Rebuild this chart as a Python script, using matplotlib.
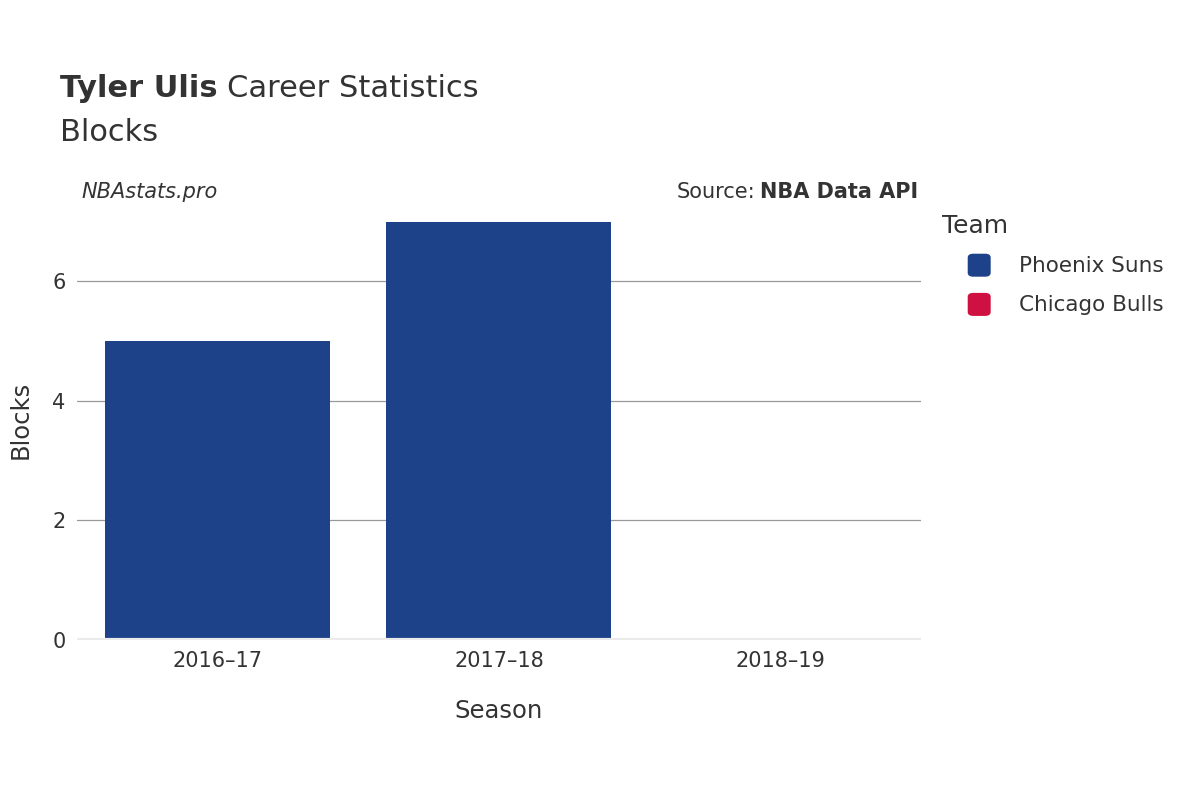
import matplotlib
matplotlib.use("Agg")
import matplotlib.pyplot as plt
from matplotlib.patches import FancyBboxPatch

seasons = ["2016\u201317", "2017\u201318", "2018\u201319"]
suns_blocks = [5, 7, 0]
bulls_blocks = [0, 0, 0]
teams = ["Phoenix Suns", "Chicago Bulls"]
colors = ["#1d4289", "#ce1141"]
yticks = [0, 2, 4, 6]

fig = plt.figure(figsize=(12, 8), dpi=100)
ax = fig.add_axes([0.064, 0.2, 0.7035, 0.55])
x = list(range(len(seasons)))
ax.bar(x, suns_blocks, width=0.8, color=colors[0], zorder=3)
ax.bar(x, bulls_blocks, width=0.8, bottom=suns_blocks, color=colors[1], zorder=3)
ax.set_xlim(-0.5, 2.5)
ax.set_ylim(0, 7.36)
ax.set_yticks(yticks)
ax.set_xticks(x)
ax.set_xticklabels(seasons)
ax.tick_params(length=0, labelsize=15, colors="#333333", pad=8)
ax.grid(axis="y", color="#999999", linewidth=0.9, zorder=0)
ax.axhline(0, color="#ebebeb", linewidth=3, zorder=4)
for s in ax.spines.values():
    s.set_visible(False)
ax.set_xlabel("Season", fontsize=17.5, color="#333333", labelpad=20)
ax.set_ylabel("Blocks", fontsize=17.5, color="#333333", labelpad=14)

fig.canvas.draw()
r = fig.canvas.get_renderer()

t1 = fig.text(0.05, 0.889, "Tyler Ulis", fontsize=22, fontweight="bold", color="#333333", va="center")
w = t1.get_window_extent(r).width / 1200
fig.text(0.05 + w + 0.008, 0.889, "Career Statistics", fontsize=22, color="#333333", va="center")
fig.text(0.05, 0.834, "Blocks", fontsize=22, color="#333333", va="center")
fig.text(0.068, 0.76, "NBAstats.pro", fontsize=15, style="italic", color="#333333", va="center")
t2 = fig.text(0.7655, 0.76, "NBA Data API", fontsize=15, fontweight="bold", color="#333333", va="center", ha="right")
w2 = t2.get_window_extent(r).width / 1200
fig.text(0.7655 - w2 - 0.004, 0.76, "Source:", fontsize=15, color="#333333", va="center", ha="right")

fig.text(0.785, 0.717, "Team", fontsize=18, color="#333333", va="center")
for i, (tm, c) in enumerate(zip(teams, colors)):
    yy = 0.668 - i * 0.049
    fig.patches.append(FancyBboxPatch((0.807, yy - 0.013), 0.018, 0.027,
                                      boxstyle="round,pad=0,rounding_size=0.004",
                                      transform=fig.transFigure, color=c))
    fig.text(0.849, yy, tm, fontsize=15.5, color="#333333", va="center")

fig.savefig("out.png")
